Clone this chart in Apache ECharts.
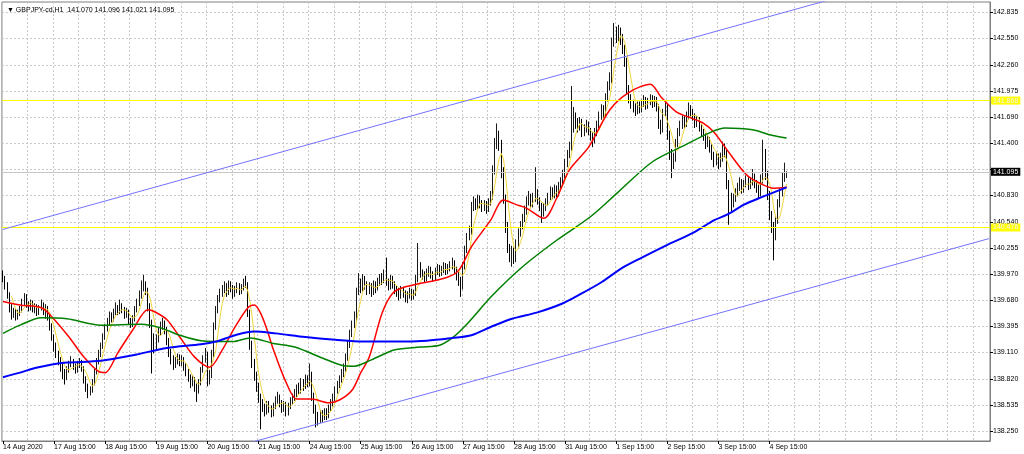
<!DOCTYPE html>
<html><head><meta charset="utf-8">
<script src="https://cdn.jsdelivr.net/npm/echarts@6/dist/echarts.min.js"></script>
<style>html,body{margin:0;padding:0;background:#fff}#c{width:1024px;height:454px}</style>
</head><body><div id="c"></div>
<script>
const symbolTitle = 'GBPJPY-cd,H1';
const lastBarOHLC = ['141.070', '141.096', '141.021', '141.095'];
const firstOpen = 139.98;
const closes = [
139.92,139.85,139.74,139.60,139.52,139.56,139.50,139.54,139.58,139.66,
139.72,139.64,139.60,139.66,139.58,139.62,139.55,139.60,139.64,139.56,
139.60,139.50,139.40,139.28,139.18,139.10,139.02,138.96,138.90,138.84,
138.92,138.98,139.02,138.96,138.92,138.98,139.00,138.94,138.82,138.74,
138.68,138.70,138.78,138.90,139.02,139.10,139.18,139.28,139.38,139.44,
139.52,139.48,139.55,139.60,139.56,139.62,139.58,139.52,139.56,139.46,
139.42,139.48,139.58,139.66,139.74,139.82,139.86,139.80,139.62,139.44,
139.28,139.20,139.26,139.34,139.40,139.44,139.36,139.24,139.12,139.04,
138.98,139.02,139.06,139.00,139.04,138.96,138.90,138.84,138.78,138.82,
138.74,138.70,138.78,138.92,139.04,139.10,138.80,138.86,139.10,139.40,
139.58,139.70,139.76,139.80,139.84,139.78,139.86,139.82,139.76,139.80,
139.84,139.78,139.82,139.88,139.86,139.56,139.20,139.00,138.86,138.74,
138.62,138.56,138.52,138.46,138.54,138.50,138.44,138.52,138.58,138.62,
138.56,138.50,138.54,138.46,138.52,138.58,138.62,138.66,138.72,138.70,
138.78,138.74,138.82,138.78,138.88,138.64,138.50,138.42,138.38,138.44,
138.40,138.46,138.42,138.50,138.56,138.62,138.70,138.76,138.82,138.88,
138.94,139.06,139.20,139.32,139.42,139.50,139.78,139.88,139.82,139.92,
139.86,139.80,139.84,139.78,139.86,139.82,139.88,139.92,139.90,139.96,
139.88,139.84,139.92,139.86,139.80,139.78,139.74,139.80,139.76,139.70,
139.74,139.78,139.72,139.76,139.92,140.04,139.98,139.96,139.92,139.98,
140.02,139.96,139.94,140.00,140.04,139.98,140.02,140.06,140.00,140.04,
140.06,140.10,140.02,139.96,139.90,139.84,140.06,140.24,140.38,140.44,
140.70,140.76,140.72,140.80,140.74,140.70,140.74,140.68,140.76,140.82,
141.10,141.38,141.48,141.40,141.10,140.80,140.50,140.26,140.18,140.22,
140.14,140.30,140.42,140.50,140.58,140.66,140.76,140.82,140.74,140.80,
140.86,140.78,140.72,140.64,140.70,140.76,140.82,140.88,140.84,140.90,
140.86,140.94,140.98,141.06,141.18,141.28,141.36,141.58,141.70,141.62,
141.58,141.64,141.52,141.56,141.60,141.54,141.48,141.44,141.52,141.60,
141.70,141.78,141.74,141.90,142.02,142.10,142.50,142.62,142.58,142.64,
142.56,142.44,142.30,142.00,141.90,141.84,141.80,141.76,141.82,141.78,
141.84,141.88,141.82,141.86,141.90,141.84,141.88,141.80,141.62,141.56,
141.74,141.80,141.50,141.30,141.18,141.24,141.40,141.52,141.60,141.66,
141.62,141.70,141.78,141.74,141.70,141.62,141.66,141.58,141.52,141.48,
141.40,141.44,141.36,141.28,141.20,141.26,141.18,141.24,141.36,141.30,
140.96,140.82,140.74,140.80,140.86,140.92,140.98,140.90,140.96,141.00,
140.94,140.98,141.04,140.96,140.92,140.86,141.00,141.30,141.06,140.84,
140.62,140.50,140.40,140.56,140.74,140.86,141.02,141.07,141.095
];
const highs = [
140.01,139.95,139.88,139.77,139.64,139.60,139.59,139.58,139.62,139.70,
139.76,139.75,139.67,139.69,139.68,139.65,139.64,139.63,139.69,139.66,
139.64,139.62,139.53,139.43,139.31,139.22,139.13,139.06,138.99,138.93,
138.96,139.02,139.07,139.04,138.99,139.02,139.05,139.03,138.96,138.85,
138.77,138.74,138.82,138.93,139.05,139.14,139.22,139.32,139.42,139.49,
139.56,139.55,139.59,139.66,139.63,139.69,139.65,139.61,139.60,139.58,
139.49,139.52,139.62,139.70,139.79,139.90,139.96,139.89,139.82,139.65,
139.47,139.32,139.31,139.38,139.45,139.49,139.46,139.39,139.27,139.15,
139.08,139.06,139.10,139.09,139.08,139.06,138.99,138.93,138.87,138.86,
138.84,138.77,138.82,138.95,139.08,139.16,139.12,138.92,139.14,139.44,
139.62,139.74,139.81,139.85,139.89,139.87,139.90,139.89,139.85,139.84,
139.88,139.87,139.86,139.92,139.95,139.88,139.58,139.24,139.04,138.90,
138.78,138.66,138.60,138.55,138.58,138.58,138.53,138.56,138.63,138.68,
138.65,138.59,138.58,138.57,138.56,138.62,138.66,138.71,138.76,138.78,
138.83,138.82,138.87,138.86,138.99,138.90,138.67,138.54,138.46,138.48,
138.48,138.50,138.50,138.54,138.60,138.66,138.74,138.80,138.86,138.93,
138.99,139.10,139.24,139.36,139.46,139.56,139.82,139.98,139.92,139.97,
139.95,139.89,139.88,139.87,139.90,139.89,139.93,139.97,139.98,140.02,
140.15,139.92,139.96,139.95,139.89,139.84,139.82,139.84,139.83,139.79,
139.78,139.82,139.81,139.80,139.96,140.31,140.10,140.02,140.00,140.03,
140.06,140.05,140.00,140.04,140.08,140.07,140.06,140.10,140.09,140.08,
140.11,140.15,140.12,140.05,139.99,139.94,140.10,140.28,140.42,140.50,
140.76,140.82,140.80,140.84,140.83,140.78,140.78,140.77,140.80,140.88,
141.16,141.46,141.62,141.54,141.44,141.14,140.84,140.54,140.30,140.28,
140.26,140.35,140.47,140.55,140.63,140.72,140.82,140.88,140.85,140.86,
141.14,140.90,140.81,140.75,140.75,140.80,140.86,140.93,140.92,140.95,
140.94,140.98,141.03,141.11,141.23,141.33,141.42,142.03,141.80,141.74,
141.68,141.69,141.67,141.61,141.66,141.64,141.57,141.52,141.57,141.65,
141.75,141.83,141.82,141.95,142.08,142.18,142.56,142.72,142.68,142.70,
142.67,142.60,142.48,142.34,142.04,141.94,141.88,141.84,141.86,141.86,
141.88,141.93,141.91,141.90,141.94,141.93,141.92,141.91,141.83,141.66,
141.78,141.85,141.83,141.54,141.34,141.30,141.45,141.57,141.65,141.71,
141.70,141.75,141.85,141.82,141.78,141.73,141.70,141.69,141.61,141.56,
141.51,141.49,141.47,141.39,141.31,141.31,141.29,141.30,141.42,141.40,
141.33,141.00,140.86,140.85,140.91,140.97,141.03,141.01,141.00,141.05,
141.03,141.03,141.12,141.07,141.00,140.95,141.06,141.44,141.34,141.10,
140.88,140.66,140.54,140.61,140.79,140.91,141.08,141.19,141.096
];
const lows = [
139.88,139.80,139.70,139.55,139.47,139.49,139.46,139.47,139.51,139.55,
139.63,139.60,139.56,139.57,139.55,139.54,139.51,139.52,139.57,139.52,
139.48,139.46,139.35,139.24,139.12,139.05,138.97,138.90,138.82,138.76,
138.81,138.89,138.95,138.92,138.88,138.89,138.94,138.90,138.77,138.68,
138.61,138.64,138.67,138.75,138.87,138.98,139.06,139.15,139.25,139.34,
139.41,139.44,139.45,139.52,139.52,139.53,139.54,139.48,139.49,139.42,
139.38,139.39,139.45,139.55,139.62,139.70,139.78,139.74,139.56,139.38,
138.88,139.10,139.14,139.22,139.30,139.36,139.31,139.19,139.06,138.98,
138.92,138.94,138.98,138.96,138.96,138.91,138.85,138.79,138.72,138.74,
138.68,138.57,138.66,138.75,138.89,139.00,138.74,138.76,138.83,139.06,
139.36,139.54,139.66,139.72,139.76,139.72,139.74,139.77,139.70,139.72,
139.76,139.74,139.75,139.79,139.82,139.50,139.14,138.94,138.80,138.68,
138.56,138.27,138.46,138.41,138.43,138.45,138.40,138.41,138.49,138.55,
138.51,138.45,138.46,138.41,138.42,138.49,138.54,138.58,138.62,138.65,
138.66,138.69,138.71,138.73,138.74,138.58,138.44,138.29,138.31,138.34,
138.35,138.37,138.37,138.39,138.47,138.52,138.58,138.66,138.72,138.78,
138.84,138.90,139.02,139.16,139.28,139.38,139.46,139.74,139.76,139.78,
139.80,139.74,139.75,139.72,139.74,139.76,139.79,139.84,139.85,139.87,
139.84,139.79,139.80,139.81,139.75,139.72,139.68,139.70,139.71,139.66,
139.65,139.70,139.68,139.69,139.73,139.88,139.93,139.91,139.88,139.89,
139.94,139.92,139.89,139.90,139.96,139.94,139.95,139.98,139.96,139.97,
140.00,140.02,139.97,139.90,139.84,139.72,139.80,140.02,140.20,140.34,
140.40,140.66,140.67,140.68,140.69,140.65,140.66,140.63,140.65,140.72,
140.78,141.06,141.34,141.32,141.02,140.74,140.42,140.20,140.10,140.05,
140.08,140.10,140.26,140.38,140.46,140.54,140.62,140.72,140.69,140.70,
140.76,140.73,140.66,140.53,140.60,140.66,140.72,140.78,140.79,140.80,
140.81,140.82,140.90,140.94,141.02,141.14,141.24,141.32,141.52,141.56,
141.52,141.54,141.47,141.48,141.52,141.49,141.43,141.36,141.40,141.48,
141.56,141.66,141.68,141.70,141.86,141.98,142.06,142.46,142.50,142.52,
142.48,142.38,142.24,141.94,141.84,141.78,141.74,141.70,141.72,141.73,
141.74,141.80,141.77,141.78,141.82,141.79,141.80,141.75,141.56,141.50,
141.52,141.70,141.44,141.22,141.02,141.12,141.20,141.36,141.48,141.56,
141.57,141.58,141.66,141.69,141.65,141.57,141.58,141.53,141.47,141.43,
141.34,141.36,141.30,141.22,141.14,141.16,141.12,141.14,141.20,141.25,
140.90,140.51,140.66,140.70,140.76,140.82,140.88,140.85,140.86,140.92,
140.89,140.90,140.94,140.91,140.86,140.80,140.82,140.96,141.00,140.78,
140.56,140.42,140.12,140.34,140.52,140.70,140.82,140.98,141.021
];
// moving averages: [bar index, price]
const redMA = [[0,139.67],[8,139.63],[18,139.60],[23,139.50],[31,139.28],[38,139.06],[45,138.90],[48,138.89],[54,139.11],[61,139.36],[68,139.58],[71,139.56],[77,139.47],[83,139.28],[90,139.06],[97,138.95],[103,139.14],[109,139.39],[115,139.60],[118,139.63],[121,139.54],[124,139.36],[127,139.14],[133,138.78],[138,138.60],[145,138.60],[153,138.56],[158,138.59],[164,138.70],[168,138.89],[172,139.06],[178,139.54],[183,139.76],[189,139.83],[208,139.93],[214,140.01],[220,140.27],[229,140.56],[235,140.78],[241,140.73],[246,140.69],[254,140.58],[260,140.80],[266,141.11],[275,141.36],[285,141.77],[294,141.96],[304,142.05],[309,141.91],[316,141.75],[323,141.68],[329,141.62],[334,141.52],[340,141.33],[349,141.06],[355,140.97],[362,140.91],[368,140.92]];
const greenMA = [[0,139.32],[8,139.41],[18,139.49],[30,139.48],[46,139.41],[65,139.42],[74,139.38],[83,139.30],[93,139.24],[108,139.23],[116,139.27],[127,139.21],[137,139.17],[150,139.05],[159,138.97],[165,138.96],[173,139.03],[184,139.14],[196,139.17],[205,139.19],[211,139.27],[217,139.40],[230,139.74],[244,140.05],[260,140.34],[276,140.60],[289,140.87],[305,141.20],[320,141.38],[333,141.53],[339,141.57],[352,141.55],[361,141.49],[368,141.46]];
const blueMA = [[0,138.84],[8,138.89],[15,138.94],[23,138.98],[30,139.00],[46,139.02],[61,139.08],[77,139.16],[93,139.20],[100,139.23],[109,139.30],[118,139.34],[128,139.32],[142,139.28],[156,139.25],[169,139.23],[184,139.23],[199,139.24],[211,139.27],[220,139.30],[229,139.39],[239,139.48],[251,139.55],[263,139.65],[272,139.76],[281,139.88],[291,140.04],[300,140.15],[312,140.29],[324,140.42],[334,140.56],[340,140.62],[348,140.73],[356,140.81],[368,140.92]];
const channelUpper = [[0,140.459],[400,143.051]];
const channelLower = [[110,138.084],[463,140.358]];
const levelHigh = 141.868;
const levelLow = 140.476;
const lastPrice = 141.095;
const xTickLabels = ['14 Aug 2020','17 Aug 15:00','18 Aug 15:00','19 Aug 15:00','20 Aug 15:00','21 Aug 15:00','24 Aug 15:00','25 Aug 15:00','26 Aug 15:00','27 Aug 15:00','28 Aug 15:00','31 Aug 15:00','1 Sep 15:00','2 Sep 15:00','3 Sep 15:00','4 Sep 15:00'];
const yGridValues = [138.250,138.535,138.820,139.110,139.395,139.680,139.970,140.255,140.540,140.830,141.115,141.400,141.690,141.975,142.260,142.550,142.835];
const yLabelValues = [138.250,138.535,138.820,139.110,139.395,139.680,139.970,140.255,140.540,140.830,141.400,141.690,141.975,142.260,142.550,142.835];
const barSlots = 464;
const fastPeriod = 5;
const yMin = 138.141, yMax = 142.950;

const FONT = "'Liberation Sans','Arial',sans-serif";
const FS = 7;
const candles = closes.map((c, i) => {
  const o = i === 0 ? firstOpen : closes[i - 1];
  return [o, c, Math.min(lows[i], o, c), Math.max(highs[i], o, c)];
});
const fast = closes.map((c, i) => {
  if (i < fastPeriod - 1) return null;
  let s = 0; for (let k = i - fastPeriod + 1; k <= i; k++) s += closes[k];
  return +(s / fastPeriod).toFixed(4);
});
const cats = Array.from({length: barSlots}, (_, i) => String(i));
const labelAt = (i) => i % 24 === 0 && i / 24 < xTickLabels.length;

const chart = echarts.init(document.getElementById('c'), null, {renderer: 'canvas'});
const lineBase = {type: 'line', showSymbol: false, symbol: 'none', silent: true, animation: false};
chart.setOption({
  animation: false,
  backgroundColor: '#ffffff',
  title: {text: '\u25BC ' + symbolTitle + '  ' + lastBarOHLC.join(' '), left: 2, top: 2,
    textStyle: {fontFamily: FONT, fontSize: FS, fontWeight: 'normal', color: '#000'}},
  grid: {left: 1, right: 34, top: 2, bottom: 13, show: true, borderColor: '#7f7f7f', borderWidth: 1, backgroundColor: '#fff'},
  xAxis: {type: 'category', data: cats, boundaryGap: true,
    axisLine: {show: true, lineStyle: {color: '#7f7f7f'}},
    axisTick: {show: true, alignWithLabel: true, length: 3, interval: labelAt, lineStyle: {color: '#000'}},
    axisLabel: {show: true, interval: labelAt, formatter: (v, i) => xTickLabels[i / 24] || '', align: 'left',
      margin: 3, fontFamily: FONT, fontSize: FS, color: '#000'},
    splitLine: {show: true, interval: (i) => i % 12 === 0 && i > 0, lineStyle: {color: '#c8c8c8', type: [2, 2], width: 1}}},
  yAxis: {type: 'value', position: 'right', min: yMin, max: yMax,
    axisLine: {show: true, lineStyle: {color: '#7f7f7f'}},
    axisTick: {show: true, length: 3, customValues: yGridValues, lineStyle: {color: '#000'}},
    axisLabel: {customValues: yLabelValues, formatter: (v) => Number(v).toFixed(3), margin: 3,
      fontFamily: FONT, fontSize: FS, color: '#000'},
    splitLine: {show: true, lineStyle: {color: '#c8c8c8', type: [2, 2], width: 1}}},
  series: [
    {type: 'candlestick', data: candles, barWidth: '60%', silent: true, z: 2,
      itemStyle: {color: '#ffffff', color0: '#000000', borderColor: '#1a1a1a', borderColor0: '#000000', borderWidth: 1},
      markLine: {symbol: ['none', 'none'], silent: true, animation: false,
        label: {position: 'end', distance: 1, fontFamily: FONT, fontSize: FS, padding: [1, 2, 0, 2]},
        data: [
          {yAxis: levelHigh, lineStyle: {color: '#ffff00', type: 'solid', width: 1},
            label: {formatter: levelHigh.toFixed(3), backgroundColor: '#ffff00', color: '#f2f2f2'}},
          {yAxis: levelLow, lineStyle: {color: '#ffff00', type: 'solid', width: 1},
            label: {formatter: levelLow.toFixed(3), backgroundColor: '#ffff00', color: '#f2f2f2'}},
          {yAxis: lastPrice, lineStyle: {color: '#c8c8c8', type: 'solid', width: 1},
            label: {formatter: lastPrice.toFixed(3), backgroundColor: '#000000', color: '#ffffff'}}
        ]}},
    Object.assign({}, lineBase, {name: 'fast', data: fast, z: 3, lineStyle: {color: '#f2d43c', width: 1}}),
    Object.assign({}, lineBase, {name: 'red', data: redMA, z: 4, smooth: 0.3, lineStyle: {color: '#ff0000', width: 1.5}}),
    Object.assign({}, lineBase, {name: 'green', data: greenMA, z: 4, smooth: 0.3, lineStyle: {color: '#008000', width: 1.5}}),
    Object.assign({}, lineBase, {name: 'blue', data: blueMA, z: 4, smooth: 0.3, lineStyle: {color: '#0000ff', width: 2}}),
    Object.assign({}, lineBase, {name: 'up', data: channelUpper, z: 5, lineStyle: {color: '#7272ff', width: 1}}),
    Object.assign({}, lineBase, {name: 'down', data: channelLower, z: 5, lineStyle: {color: '#7272ff', width: 1}})
  ]
});
</script>
</body></html>
